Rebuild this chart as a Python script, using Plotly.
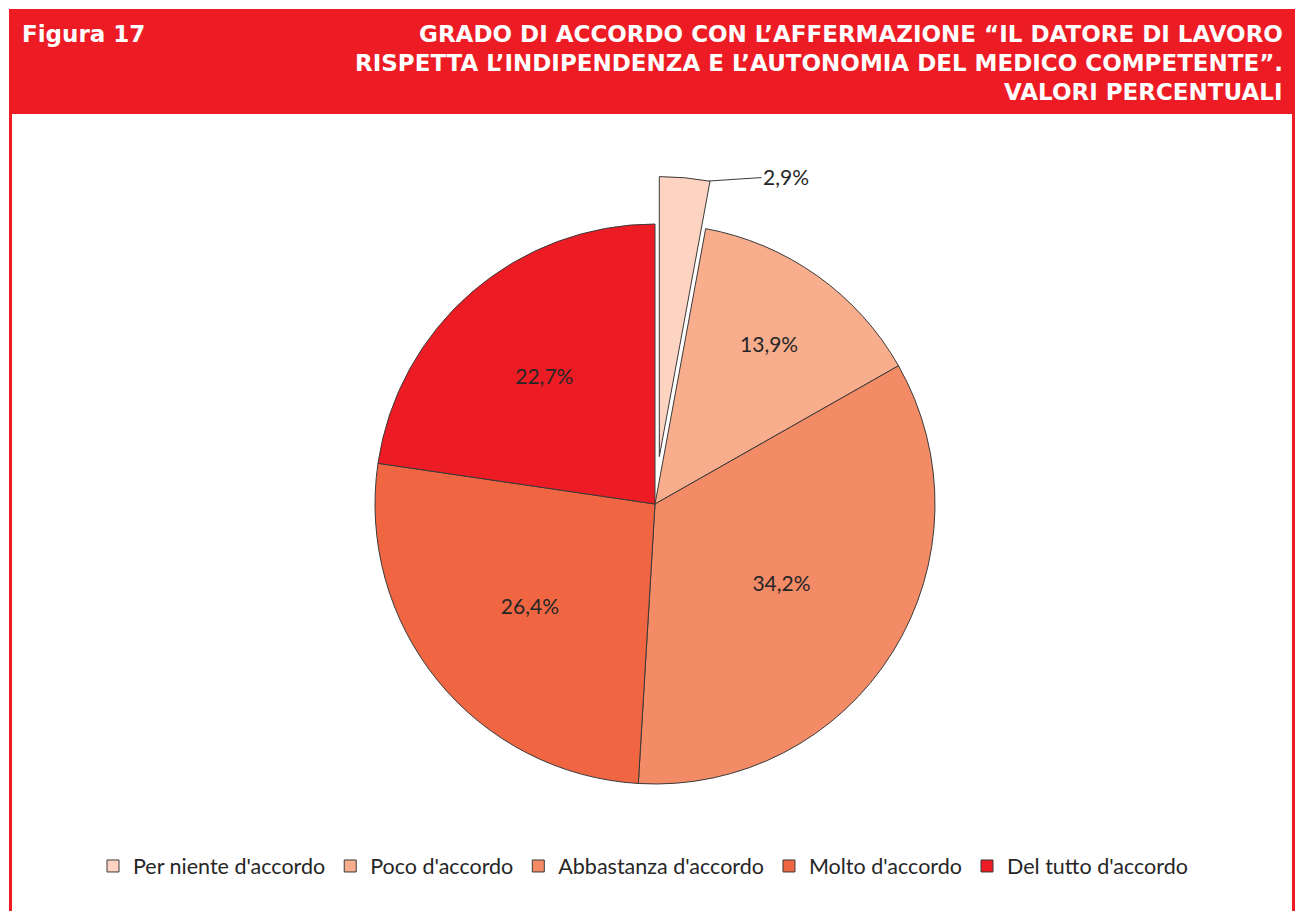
import plotly.graph_objects as go

labels = ["Per niente d'accordo", "Poco d'accordo", "Abbastanza d'accordo", "Molto d'accordo", "Del tutto d'accordo"]
values = [2.9, 13.9, 34.2, 26.4, 22.7]
colors = ["#FDD3C1", "#F8AD8D", "#F48B67", "#F06642", "#ED1C24"]
pulls = [0.17, 0, 0, 0, 0]

title_left = "Figura 17"
title_right = ["GRADO DI ACCORDO CON L’AFFERMAZIONE “IL DATORE DI LAVORO",
               "RISPETTA L’INDIPENDENZA E L’AUTONOMIA DEL MEDICO COMPETENTE”.",
               "VALORI PERCENTUALI"]

W, H = 1298, 911
RED = "#ED1C24"

def px_x(p):
    return p / W

def px_y(p):
    return 1 - p / H

fmt = lambda v: f"{v:.1f}%".replace(".", ",")
texts = [fmt(v) for v in values]
texts[0] = ""

R = 280
CX, CY = 655, 504
half = R * (1 + max(pulls))

fig = go.Figure(go.Pie(
    labels=labels, values=values, sort=False, direction="clockwise", rotation=0,
    marker=dict(colors=colors, line=dict(color="#3a3a3a", width=1)),
    pull=pulls, text=texts, textinfo="text", textposition="inside",
    insidetextorientation="horizontal",
    textfont=dict(family="Lato", size=21, color="#262626"),
    domain=dict(x=[px_x(CX - half), px_x(CX + half)], y=[px_y(CY + half), px_y(CY - half)]),
    hoverinfo="label+percent",
))

shapes = [
    dict(type="rect", xref="paper", yref="paper", x0=px_x(9), x1=px_x(1295), y0=px_y(114), y1=px_y(9),
         fillcolor=RED, line=dict(width=0), layer="below"),
    dict(type="line", xref="paper", yref="paper", x0=px_x(10.5), x1=px_x(10.5), y0=px_y(114), y1=0,
         line=dict(color=RED, width=3)),
    dict(type="line", xref="paper", yref="paper", x0=px_x(1293.5), x1=px_x(1293.5), y0=px_y(114), y1=0,
         line=dict(color=RED, width=3)),
]

TFONT = dict(family="DejaVu Sans", size=23, color="white")
annotations = [
    dict(xref="paper", yref="paper", x=px_x(20), y=px_y(34), xanchor="left", yanchor="middle",
         text=f"<b>{title_left}</b>", showarrow=False, font=TFONT),
]
for i, line in enumerate(title_right):
    annotations.append(dict(xref="paper", yref="paper", x=px_x(1285), y=px_y(34 + 29 * i),
                            xanchor="right", yanchor="middle", text=f"<b>{line}</b>", showarrow=False,
                            font=TFONT))

annotations.append(dict(xref="paper", yref="paper", x=px_x(709), y=px_y(181),
                        text=fmt(values[0]), showarrow=True, arrowhead=0, arrowwidth=1,
                        arrowcolor="#3a3a3a", ax=77, ay=-5, xanchor="center",
                        font=dict(family="Lato", size=21, color="#262626")))

fig.update_layout(
    width=W, height=H, margin=dict(l=0, r=0, t=0, b=0),
    paper_bgcolor="white", plot_bgcolor="white",
    shapes=shapes, annotations=annotations, separators=",.",
    legend=dict(orientation="h", x=px_x(643), xanchor="center", y=px_y(866), yanchor="middle",
                font=dict(family="Lato", size=21.5, color="#262626"), itemwidth=30,
                traceorder="normal"),
    showlegend=True,
)

fig.write_html("out.html", post_script="document.body.style.margin='0';",
               config=dict(displayModeBar=False))
